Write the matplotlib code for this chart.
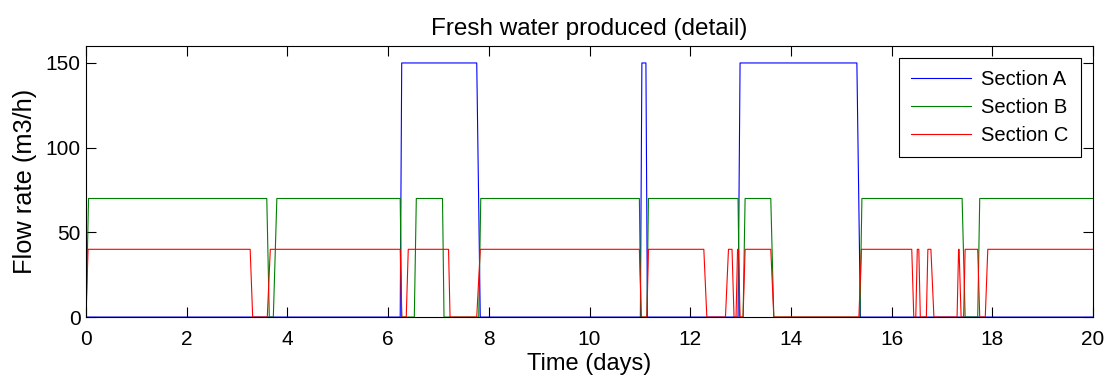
import numpy as np
import matplotlib.pyplot as plt

# Breakpoints (time in days, flow in m3/h)
a_t = [0, 6.24, 6.27, 7.76, 7.83, 11.01, 11.04, 11.12, 11.15, 12.95, 12.99, 15.31, 15.38, 20]
a_v = [0, 0, 150, 150, 0, 0, 150, 150, 0, 0, 150, 150, 0, 0]

b_t = [0, 0.05, 3.59, 3.64, 3.72, 3.79, 6.24, 6.27, 6.52, 6.56, 7.08, 7.11, 7.80, 7.84,
       10.99, 11.02, 11.14, 11.17, 12.95, 12.98, 13.05, 13.09, 13.60, 13.66,
       15.37, 15.41, 17.40, 17.46, 17.71, 17.75, 20]
b_v = [0, 70, 70, 0, 0, 70, 70, 0, 0, 70, 70, 0, 0, 70,
       70, 0, 0, 70, 70, 0, 0, 70, 70, 0,
       0, 70, 70, 0, 0, 70, 70]

c_t = [0, 0.04, 3.26, 3.31, 3.60, 3.66, 6.24, 6.27, 6.36, 6.40, 7.20, 7.23, 7.76, 7.83,
       10.99, 11.03, 11.14, 11.17, 12.27, 12.33, 12.70, 12.76, 12.83, 12.87,
       12.91, 12.94, 12.96, 12.99, 13.05, 13.09, 13.60, 13.66, 15.35, 15.40,
       16.40, 16.44, 16.48, 16.51, 16.54, 16.57, 16.69, 16.72, 16.78, 16.84,
       17.30, 17.33, 17.34, 17.38, 17.43, 17.46, 17.71, 17.75, 17.86, 17.91, 20]
c_v = [0, 40, 40, 0, 0, 40, 40, 0, 0, 40, 40, 0, 0, 40,
       40, 0, 0, 40, 40, 0, 0, 40, 40, 0,
       0, 40, 40, 0, 0, 40, 40, 0, 0, 40,
       40, 0, 0, 40, 40, 0, 0, 40, 40, 0,
       0, 40, 40, 0, 0, 40, 40, 0, 0, 40, 40]

labels = ['Section A', 'Section B', 'Section C']

plt.rcParams['font.family'] = ['Liberation Sans', 'DejaVu Sans']

fig = plt.figure(figsize=(11.1, 3.9), dpi=100)
ax = fig.add_axes([0.0775, 0.187, 0.9072, 0.695])

ax.plot(a_t, a_v, color=(0, 0, 1), lw=0.8, label=labels[0])
ax.plot(b_t, b_v, color=(0, 0.5, 0), lw=0.8, label=labels[1])
ax.plot(c_t, c_v, color=(1, 0, 0), lw=0.8, label=labels[2])

ax.set_xlim(0, 20)
ax.set_ylim(0, 160)
ax.set_xticks(np.arange(0, 21, 2))
ax.set_yticks([0, 50, 100, 150])
ax.tick_params(direction='in', length=7, width=0.8, top=True, right=True,
               labelsize=15)
ax.tick_params(axis='x', pad=9)
ax.tick_params(axis='y', pad=4)
for s in ax.spines.values():
    s.set_linewidth(0.8)

ax.set_title('Fresh water produced (detail)', fontsize=17.5, pad=8)
ax.set_xlabel('Time (days)', fontsize=17, labelpad=3)
ax.set_ylabel('Flow rate (m3/h)', fontsize=18.3, labelpad=6)

leg = ax.legend(loc='upper right', fontsize=14.5, fancybox=False, framealpha=1,
                edgecolor='black', borderaxespad=0.6, handlelength=3.0,
                labelspacing=0.45, borderpad=0.6, handletextpad=0.5)
leg.get_frame().set_linewidth(0.8)

fig.savefig('out.png', dpi=100)
